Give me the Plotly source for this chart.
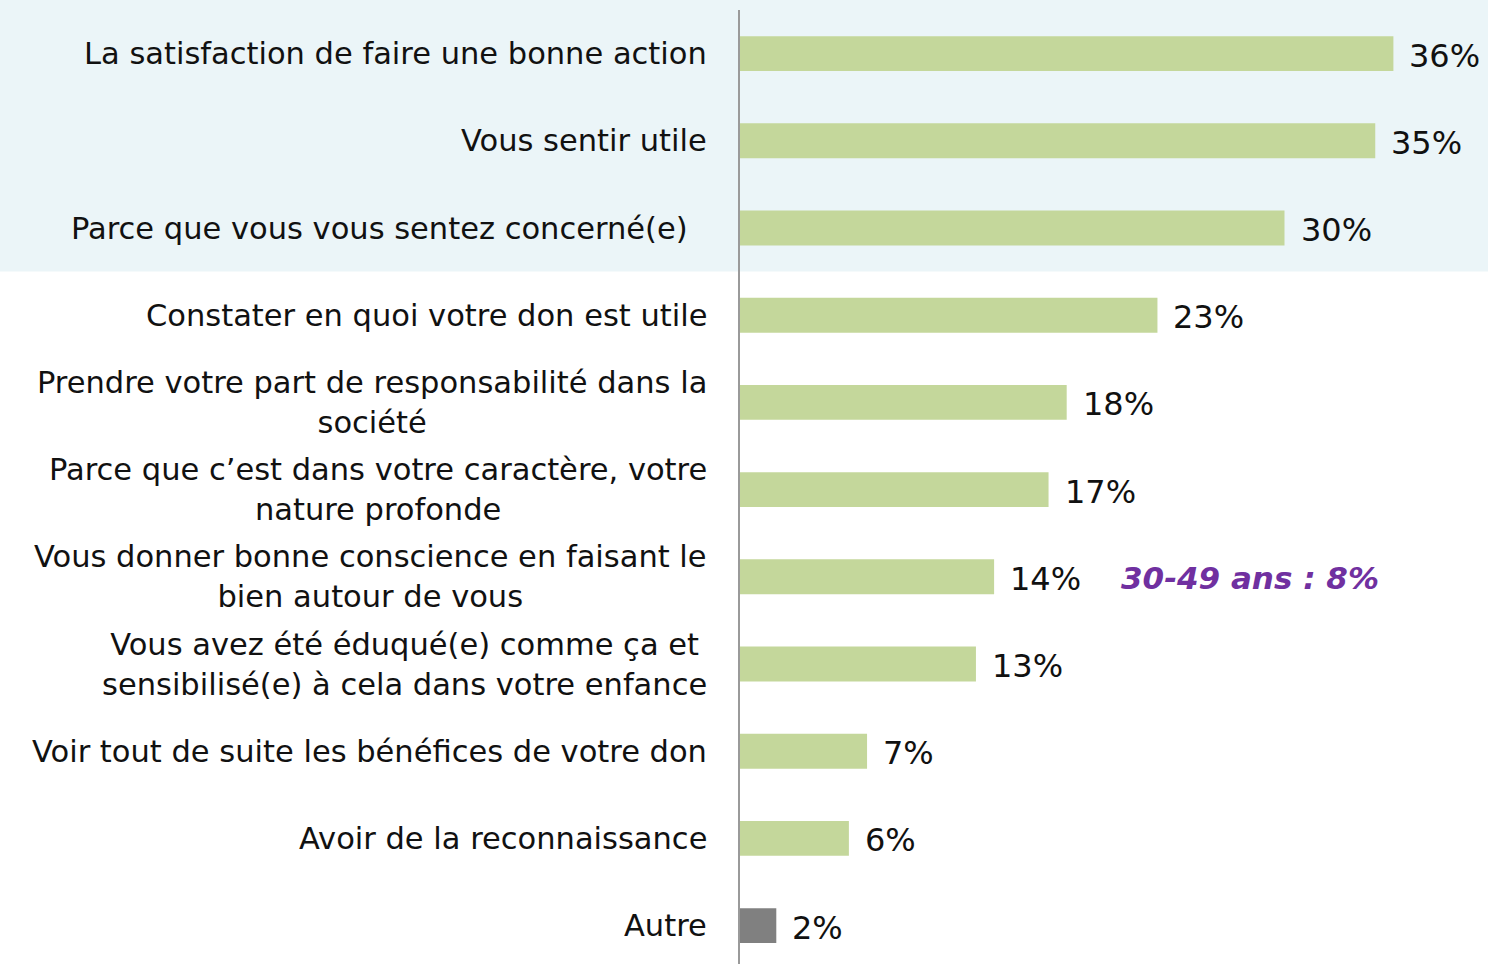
import plotly.graph_objects as go

# Motivations for donating, share of respondents (%)
categories = [
    "La satisfaction de faire une bonne action",
    "Vous sentir utile",
    "Parce que vous vous sentez concerné(e)\u00a0\u00a0",
    "Constater en quoi votre don est utile",
    "Prendre votre part de responsabilité dans la<br>société",
    "Parce que c\u2019est dans votre caractère, votre<br>nature profonde",
    "Vous donner bonne conscience en faisant le<br>bien autour de vous",
    "Vous avez été éduqué(e) comme ça et<br>sensibilisé(e) à cela dans votre enfance",
    "Voir tout de suite les bénéfices de votre don",
    "Avoir de la reconnaissance",
    "Autre",
]
values = [36, 35, 30, 23, 18, 17, 14, 13, 7, 6, 2]
highlight_index = 6
highlight_text = "30-49 ans : 8%"

GREEN = "#C4D79B"
GREY = "#808080"
colors = [GREY if c == "Autre" else GREEN for c in categories]

W, H = 1488, 964
L, T, B = 740, 10, 0
ROW = 87.2          # pixel height of one category row
FONT = "DejaVu Sans"

fig = go.Figure(
    go.Bar(
        x=values,
        y=list(range(len(categories))),
        orientation="h",
        marker=dict(color=colors, line=dict(width=0)),
        hoverinfo="skip",
    )
)

annotations = []
for i, (cat, v) in enumerate(zip(categories, values)):
    # category label, right-aligned block with centred lines
    annotations.append(dict(
        x=0, xref="paper", y=i, yref="y", xanchor="right", yanchor="middle",
        xshift=-31, text=cat, showarrow=False, align="center",
        font=dict(family=FONT, size=30.5, color="#111111"),
    ))
    # value label at the end of each bar
    annotations.append(dict(
        x=v, xref="x", y=i, yref="y", xanchor="left", yanchor="middle",
        xshift=14, yshift=-2, text=f"{v}%", showarrow=False,
        font=dict(family=FONT, size=32, color="#111111"),
    ))

annotations.append(dict(
    x=values[highlight_index], xref="x", y=highlight_index, yref="y",
    xanchor="left", yanchor="middle", xshift=125, yshift=-1,
    text=f"<b><i>{highlight_text}</i></b>", showarrow=False,
    font=dict(family=FONT, size=31, color="#7030A0"),
))

n = len(categories)
plot_h = H - T - B
rows_visible = plot_h / ROW
fig.add_shape(
    type="rect", xref="paper", yref="paper",
    x0=-L / (W - L), x1=1, y0=1 - 3 / rows_visible, y1=1 + T / plot_h,
    fillcolor="#EBF5F8", line=dict(width=0), layer="below",
)

fig.update_layout(
    width=W, height=H,
    margin=dict(l=L, r=0, t=T, b=B, pad=0),
    paper_bgcolor="white", plot_bgcolor="rgba(0,0,0,0)",
    bargap=0.6, showlegend=False,
    annotations=annotations,
    xaxis=dict(range=[0, (W - L) / 18.15], visible=False, fixedrange=True),
    yaxis=dict(
        range=[rows_visible - 0.5, -0.5], showticklabels=False, showgrid=False,
        zeroline=False, showline=True, linecolor="#9A9A9A", linewidth=2,
        ticks="", fixedrange=True,
    ),
)

fig.write_html("out.html", config={"displayModeBar": False})
